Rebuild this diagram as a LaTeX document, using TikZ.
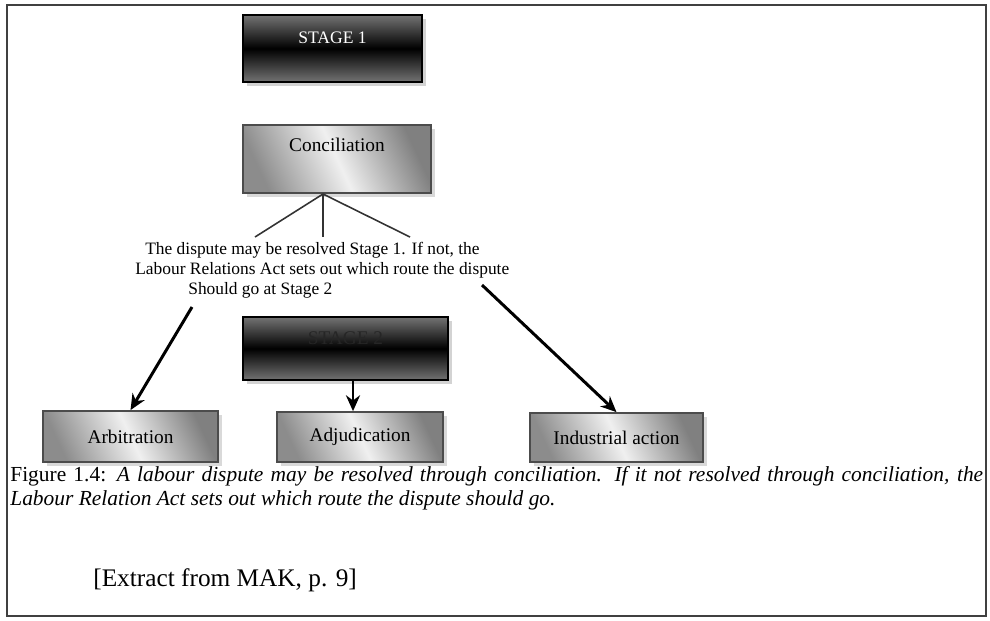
\documentclass[tikz,border=0pt]{standalone}
\usepackage{fontspec}
\setmainfont{Liberation Serif}
\usetikzlibrary{arrows.meta}
\usetikzlibrary{shadows}
\usetikzlibrary{positioning}
\tikzset{stagebox/.style = {draw = black, line width = 1.4pt, top color = black!55, bottom color = black!55, middle color = black, drop shadow = {shadow xshift = 2pt, shadow yshift = -2pt, opacity = 0.35}}}
\tikzset{routebox/.style = {draw = black!70, line width = 1pt, left color = black!45, right color = black!50, middle color = black!6, shading angle = 115, drop shadow = {shadow xshift = 2pt, shadow yshift = -2pt, opacity = 0.3}, font = \fontsize{11}{13}\selectfont}}
\tikzset{raised/.style = {text height = 7pt, text depth = #1}}
\tikzset{fork/.style = {draw = black!80, line width = 0.9pt}}
\tikzset{route/.style = {draw = black, line width = 1.7pt, -{Stealth[length = 9pt, width = 8pt]}}}

\begin{document}
\begin{tikzpicture}[x = 0.02cm, y = -0.02cm]
            \useasboundingbox (0,0) rectangle (990,620);
            \draw [black!75, line width = 1.3pt] (7,5) rectangle (986,616);
            % stage 1
            \node [stagebox, minimum width = 179*0.02cm, minimum height = 67*0.02cm, raised = 13pt, text = white, font = \fontsize{10}{12}\selectfont] (stageone) at (332.5,48.5) {STAGE 1};
            \node [routebox, minimum width = 188*0.02cm, minimum height = 68*0.02cm, raised = 16pt] (concil) at (337,159) {Conciliation};
            \coordinate (forktop) at (323,194);
            \coordinate (forkleft) at (255,237);
            \coordinate (forkmid) at (323,237);
            \coordinate (forkright) at (410,237);
            \draw [fork] (forktop)--(forkleft);
            \draw [fork] (forktop)--(forkmid);
            \draw [fork] (forktop)--(forkright);
            \node [anchor = north west, inner sep = 0, align = left, font = \fontsize{9.9}{11.4}\selectfont] (dispute) at (135,242) {\hspace*{0.2cm}The dispute may be resolved Stage 1. If not, the\\Labour Relations Act sets out which route the dispute\\\hspace*{1.06cm}Should go at Stage 2};
            % stage 2
            \node [stagebox, minimum width = 205*0.02cm, minimum height = 63*0.02cm, raised = 11pt, text = black!85, font = \fontsize{11}{13}\selectfont] (stagetwo) at (345.5,348.5) {STAGE 2};
            \node [routebox, minimum width = 175*0.02cm, minimum height = 51*0.02cm] (arbit) at (130.5,436.5) {Arbitration};
            \node [routebox, minimum width = 166*0.02cm, minimum height = 50*0.02cm] (adjud) at (360,437) {Adjudication};
            \node [routebox, minimum width = 173*0.02cm, minimum height = 49*0.02cm] (indus) at (616.5,437.5) {Industrial action};
            \coordinate (leftfoot) at (192,307);
            \coordinate (rightfoot) at (482,285);
            \coordinate (stagefoot) at (353,381);
            \draw [route] (leftfoot)--(arbit.north);
            \draw [route] (rightfoot)--(indus.north);
            \draw [route] (stagefoot)--(stagefoot |- adjud.north);
            % caption
            \node [anchor = north west, inner sep = 0, text width = 19.46cm, align = justify, font = \fontsize{12.2}{13.5}\selectfont] (caption) at (10,466) {Figure 1.4: \textit{A labour dispute may be resolved through conciliation. If it not resolved through conciliation, the\linebreak Labour Relation Act sets out which route the dispute should go.}};
            \node [anchor = west, inner sep = 0, font = \fontsize{14.4}{16}\selectfont] (extract) at (93,580) {[Extract from MAK, p. 9]};
        \end{tikzpicture}
\end{document}
